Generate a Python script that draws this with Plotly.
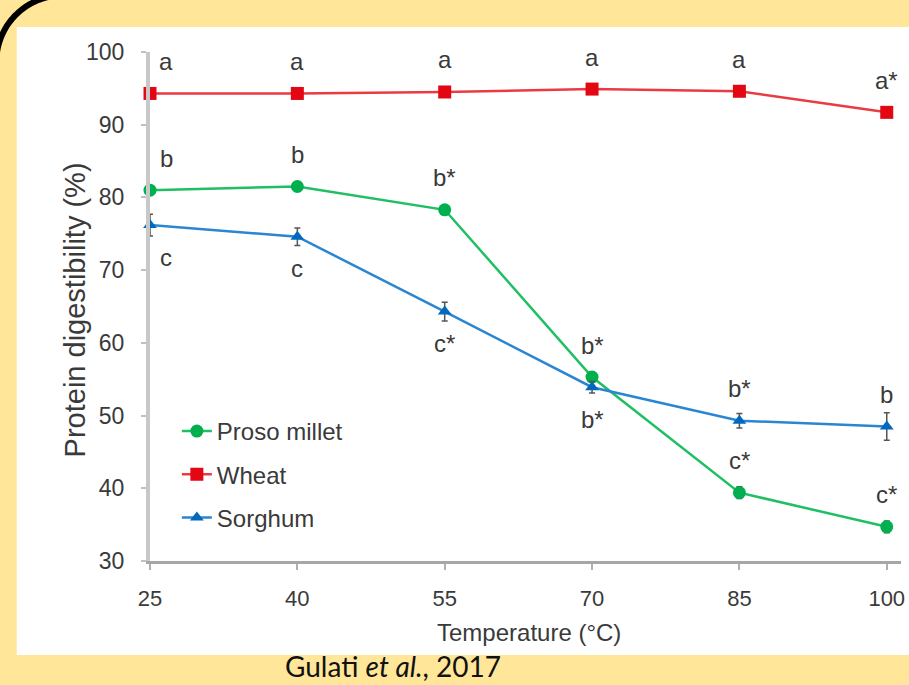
import numpy as np
import plotly.graph_objects as go

# ---- data ----
temperature = [25, 40, 55, 70, 85, 100]
proso_millet = [81.0, 81.5, 78.3, 55.3, 39.4, 34.7]
wheat = [94.3, 94.3, 94.5, 94.9, 94.6, 91.7]
sorghum = [76.2, 74.6, 64.3, 53.9, 49.3, 48.5]

proso_err = [0.6, 0.6, 0.6, 0.7, 0.8, 0.8]
wheat_err = [0.4, 0.4, 0.4, 0.4, 0.4, 0.5]
sorghum_err = [1.5, 1.2, 1.3, 0.8, 1.0, 1.9]

proso_letters = ["b", "b", "b*", "b*", "c*", "c*"]
wheat_letters = ["a", "a", "a", "a", "a", "a*"]
sorghum_letters = ["c", "c", "c*", "b*", "b*", "b"]
sorghum_side = [-1, -1, -1, -1, 1, 1]   # -1 below point, +1 above

y_ticks = [30, 40, 50, 60, 70, 80, 90, 100]

# ---- geometry helpers (pixel -> paper) ----
W, H = 909, 685
L, R, T, B = 150, 905, 52, 561
def px(x):
    return (x - L) / (R - L)
def py(y):
    return (B - y) / (B - T)

FONT = "Liberation Sans, Arial, sans-serif"
TXT = "#3a3a3a"

fig = go.Figure()

series = [
    ("Proso millet", proso_millet, proso_err, "circle", "#00b04f", "#1fbf63", 13),
    ("Wheat", wheat, wheat_err, "square", "#e30613", "#ea3a42", 13),
    ("Sorghum", sorghum, sorghum_err, "triangle-up", "#0068bd", "#2a86d2", 12),
]
for i, (name, vals, err, sym, mcol, lcol, ms) in enumerate(series):
    fig.add_trace(go.Scatter(
        x=temperature, y=vals, name=name, mode="lines+markers",
        line=dict(color=lcol, width=2.5),
        marker=dict(symbol=sym, size=ms, color=mcol),
        error_y=dict(type="data", array=err, visible=True, color="#555555",
                     thickness=1.5, width=3),
        cliponaxis=False, legendgroup=name,
    ))

# significance letters
def add_letters(letters, vals, sides):
    for t, v, s, side in zip(temperature, vals, letters, sides):
        fig.add_annotation(
            x=t, y=v, text=s, showarrow=False, xref="x", yref="y",
            yshift=32 * side, xshift=16 if t == temperature[0] else 0,
            font=dict(family=FONT, size=24, color=TXT),
            xanchor="center", yanchor="middle",
        )

add_letters(wheat_letters, wheat, [1] * 6)
add_letters(proso_letters, proso_millet, [1] * 6)
add_letters(sorghum_letters, sorghum, sorghum_side)

# axis titles
fig.add_annotation(
    x=px(75), y=py(310), xref="paper", yref="paper", text="Protein digestibility (%)",
    textangle=-90, showarrow=False, xanchor="center", yanchor="middle",
    font=dict(family=FONT, size=29, color=TXT),
)
fig.add_annotation(
    x=px(531), y=py(632), xref="paper", yref="paper", text="Temperature (°C)",
    showarrow=False, xanchor="center", yanchor="middle",
    font=dict(family=FONT, size=24, color=TXT),
)
# source caption
fig.add_annotation(
    x=px(284), y=py(685), xref="paper", yref="paper",
    text="Gulati <i>et al.</i>, 2017",
    showarrow=False, xanchor="left", yanchor="bottom",
    font=dict(family="Lato, Open Sans, Liberation Sans", size=28, color="#111111"),
)

# white panel and black rounded corner
shapes = [
    dict(type="rect", xref="paper", yref="paper", layer="below",
         x0=px(16), x1=px(915), y0=py(655), y1=py(27),
         fillcolor="white", line=dict(width=0)),
]
cx, cy, r = 62, 62, 66.5
ang = np.linspace(np.pi, 1.5 * np.pi, 40)
pts = [(px(cx + r * np.cos(a)), py(cy + r * np.sin(a))) for a in ang]
path = "M " + " L ".join(f"{a:.5f},{b:.5f}" for a, b in pts)
shapes.append(dict(type="path", xref="paper", yref="paper", path=path,
                   line=dict(color="black", width=6), layer="above"))

fig.update_layout(
    width=W, height=H,
    margin=dict(l=L, r=W - R, t=T, b=H - B, pad=0),
    paper_bgcolor="#ffe699",
    plot_bgcolor="rgba(0,0,0,0)",
    shapes=shapes,
    showlegend=True,
    legend=dict(
        x=px(177), y=py(409), xanchor="left", yanchor="top",
        bgcolor="rgba(0,0,0,0)", traceorder="grouped", tracegroupgap=9,
        font=dict(family=FONT, size=24, color=TXT),
        itemwidth=30,
    ),
    xaxis=dict(
        range=[25, 101.45], tickvals=temperature, ticktext=[str(t) for t in temperature],
        showgrid=False, zeroline=False, showline=True, linecolor="#a6a6a6", linewidth=3,
        ticks="outside", ticklen=6, tickwidth=2, tickcolor="#b0b0b0",
        tickfont=dict(family=FONT, size=22, color=TXT), ticklabelstandoff=10,
        ticklabeloverflow="allow",
    ),
    yaxis=dict(
        range=[30, 100], tickvals=y_ticks,
        showgrid=False, zeroline=False, showline=True, linecolor="#c8c8c8", linewidth=4,
        ticks="outside", ticklen=5, tickwidth=2, tickcolor="#c0c0c0",
        tickfont=dict(family=FONT, size=23, color=TXT), ticklabelstandoff=12,
    ),
)

fig.write_html(
    "out.html",
    config={"displayModeBar": False},
    post_script="document.body.style.margin='0';document.body.style.overflow='hidden';",
)
